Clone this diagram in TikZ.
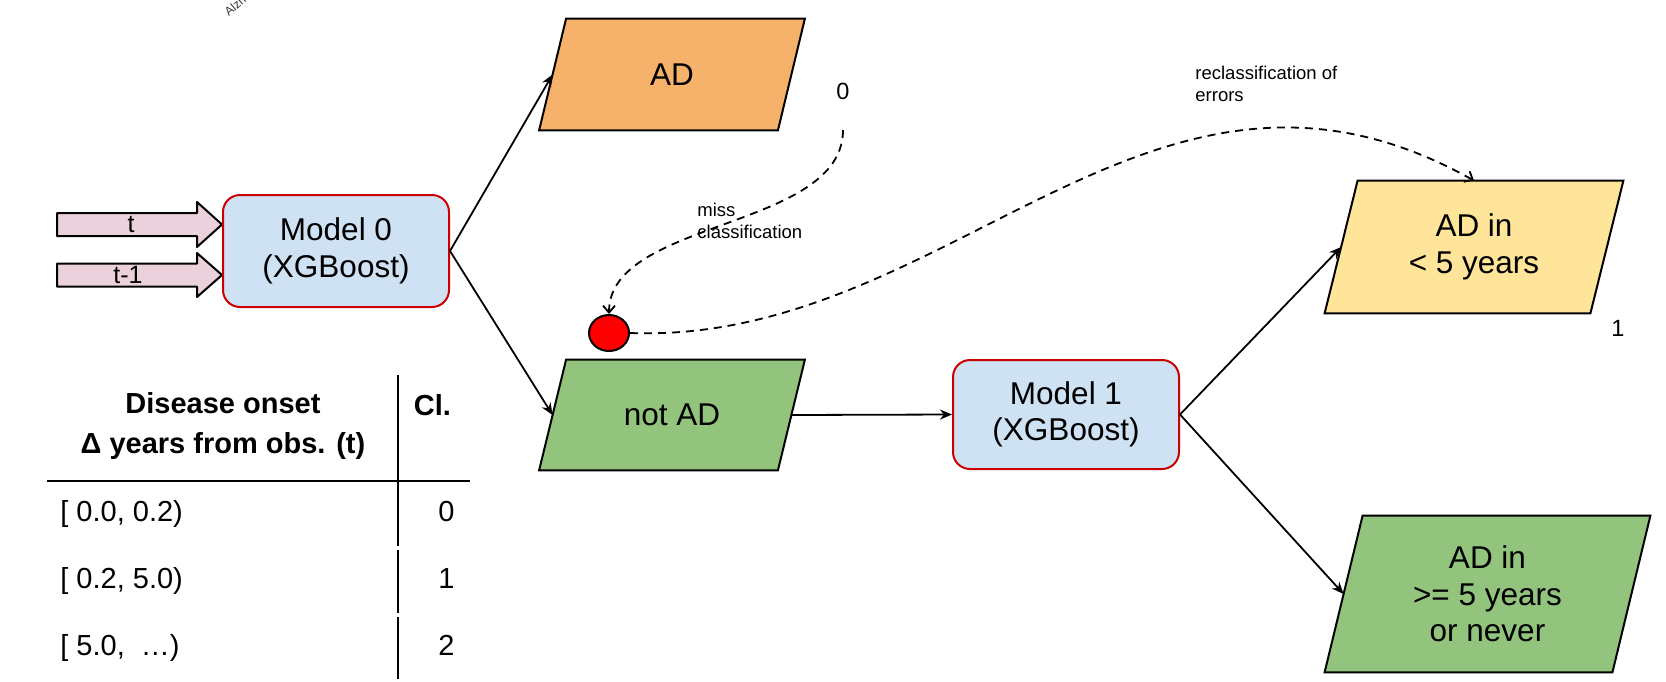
\documentclass[tikz,border=0pt]{standalone}
\usepackage{fontspec}
\setmainfont{Liberation Sans}
\usetikzlibrary{arrows.meta,shapes.geometric,backgrounds}

\definecolor{modelfill}{HTML}{CFE2F3}
\definecolor{modeledge}{HTML}{CC0000}
\definecolor{inputfill}{HTML}{EAD1DC}
\definecolor{adfill}{HTML}{F6B26B}
\definecolor{notadfill}{HTML}{93C47D}
\definecolor{soonfill}{HTML}{FFE599}

\newcommand\boxfont{\fontsize{15.75}{18.3}\selectfont}
\newcommand\tabfont{\fontsize{14.5}{20}\selectfont}
\newcommand\notefont{\fontsize{9.25}{11}\selectfont}
\newcommand\numfont{\fontsize{11.75}{14}\selectfont}
\newcommand\inputfont{\fontsize{12.5}{14}\selectfont}

% slanted data box drawn behind a node; #1 node, #2 horizontal slant, #3 fill
\newcommand\slantbox[3]{%
  \begin{pgfonlayer}{background}
    \draw[line width=1pt, fill=#3]
      ([shift={(#2/2,0)}]#1.north west) -- ([shift={(#2/2,0)}]#1.north east) --
      ([shift={(-#2/2,0)}]#1.south east) -- ([shift={(-#2/2,0)}]#1.south west) -- cycle;
  \end{pgfonlayer}}

\begin{document}
\begin{tikzpicture}[x=0.5pt, y=-0.5pt, line join=round,
  model/.style={draw=modeledge, line width=1pt, fill=modelfill,
    rounded corners=8.5pt, minimum width=113pt, minimum height=56pt,
    align=center, font=\boxfont, inner sep=0pt},
  databox/.style={inner sep=0pt, align=center, font=\boxfont},
  inputarrow/.style={draw, line width=1pt, fill=inputfill},
  flow/.style={-{Stealth[length=6pt,width=5pt]}, line width=0.9pt},
  feedback/.style={-{Straight Barb[length=3.5pt,width=6pt]}, dash pattern=on 4pt off 3pt, line width=0.9pt},
  rule/.style={line width=1pt},
  cell/.style={font=\tabfont, inner sep=0pt}]

\useasboundingbox (0,0) rectangle (1666,681);

% rotated label running off the top edge
\node[rotate=40, anchor=south west, font=\fontsize{6}{7}\selectfont, inner sep=0pt, text=black!80] (stray) at (229,17) {Alzheimer};

% inputs
\draw[inputarrow] (57,213) -- (197,213) -- (197,202) -- (222,224.5) -- (197,247) -- (197,236) -- (57,236) -- cycle;
\node[font=\inputfont, inner sep=0pt] (tlab) at (131,224.5) {t};
\draw[inputarrow] (57,263.5) -- (197,263.5) -- (197,253) -- (222,275) -- (197,297) -- (197,286.5) -- (57,286.5) -- cycle;
\node[font=\inputfont, inner sep=0pt] (tprevlab) at (128,275) {t-1};

% models
\node[model] (m0) at (336,251) {Model 0\\(XGBoost)};
\node[model, minimum height=54.5pt] (m1) at (1066,414.5) {Model 1\\(XGBoost)};

% outcomes
\node[databox, minimum width=119pt, minimum height=55.5pt] (ad) at (672,74.5) {AD};
\slantbox{ad}{27}{adfill}
\node[databox, minimum width=119pt, minimum height=55pt] (notad) at (672,415) {not AD};
\slantbox{notad}{27}{notadfill}
\node[databox, minimum width=132.5pt, minimum height=66pt] (soon) at (1474,247) {AD in\\< 5 years};
\slantbox{soon}{33}{soonfill}
\node[databox, minimum width=143.5pt, minimum height=78pt] (late) at (1487.5,594) {AD in\\>= 5 years\\or never};
\slantbox{late}{38}{notadfill}

% error marker
\node[ellipse, draw, line width=1pt, fill=red, minimum width=20pt, minimum height=18pt, inner sep=0pt] (dot) at (609,333) {};

% class numbers and notes
\node[font=\numfont, inner sep=0pt] (zero) at (843,91) {0};
\node[font=\numfont, inner sep=0pt] (one) at (1618,328) {1};
\node[font=\notefont, align=left, anchor=west, inner sep=0pt] (misslab) at (697,221) {miss\\classification};
\node[font=\notefont, align=left, anchor=west, inner sep=0pt] (reclab) at (1195,84) {reclassification of\\errors};

% flow
\draw[flow] (m0.east) -- (ad.west);
\draw[flow] (m0.east) -- (notad.west);
\draw[flow] (notad.east) -- (m1.west);
\draw[flow] (m1.east) -- (soon.west);
\draw[flow] (m1.east) -- (late.west);

% feedback of errors
\coordinate (misfrom) at (843,130);
\draw[feedback] (misfrom) .. controls +(0,100) and +(0,-95) .. (dot.north);
\draw[feedback] (dot.east) .. controls +(321,12) and +(-323,-181) .. (soon.north);

% class table
\draw[rule] (47,481) -- (470,481);
\draw[rule] (398,375) -- (398,546);
\draw[rule] (398,550) -- (398,613);
\draw[rule] (398,617) -- (398,679);
\node[cell, font=\tabfont\bfseries, align=center] (hdr) at (223,426) {Disease onset\\Δ years from obs. (t)};
\node[cell, font=\tabfont\bfseries, anchor=base] (hcl) at (432.5,415) {Cl.};
\node[cell, anchor=base west] (r0) at (60,521.5) {[ 0.0, 0.2)};
\node[cell, anchor=base east] (c0) at (455,521.5) {0};
\node[cell, anchor=base west] (r1) at (60,588.5) {[ 0.2, 5.0)};
\node[cell, anchor=base east] (c1) at (455,588.5) {1};
\node[cell, anchor=base west] (r2) at (60,655) {[ 5.0,\ \ …)};
\node[cell, anchor=base east] (c2) at (455,655) {2};
\end{tikzpicture}
\end{document}
